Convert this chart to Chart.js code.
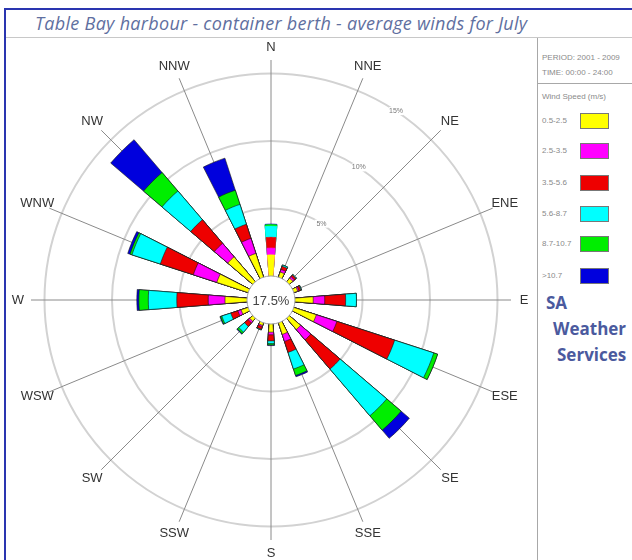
<!DOCTYPE html>
<html><head><meta charset="utf-8">
<script src="https://cdn.jsdelivr.net/npm/chart.js@4.4.0/dist/chart.umd.min.js"></script>
<style>
body{margin:0;width:632px;height:560px;overflow:hidden;background:#fff;position:relative;font-family:"Liberation Sans",Arial,sans-serif}
#frame{position:absolute;left:4px;top:8px;width:700px;height:600px;border-left:2px solid #2a35b0;border-top:2px solid #2a35b0}
#title{position:absolute;left:35px;top:11px;font:italic 18px "Open Sans";letter-spacing:0.3px;color:#5f6fa0;white-space:nowrap}
#hline{position:absolute;left:6px;top:37px;width:626px;height:1px;background:#c8c8c8}
#vline{position:absolute;left:537px;top:38px;width:1px;height:522px;background:#a8a8a8}
#pline{position:absolute;left:538px;top:83px;width:94px;height:1px;background:#a8a8a8}
#wrap{position:absolute;left:6px;top:40px;width:530px;height:520px}
.small{position:absolute;left:542px;font-size:8px;color:#8a8a8a;white-space:nowrap;line-height:10px}
.row{position:absolute;left:542px;width:80px;height:15px}
.row span{position:absolute;left:0;top:3px;font-size:8px;color:#8a8a8a;line-height:10px}
.row i{position:absolute;left:38px;top:0;width:27px;height:14px;border:1px solid #777}
.sa{position:absolute;font:bold 17px "Open Sans";color:#4b5a9e;white-space:nowrap;line-height:20px}
</style>
</head>
<body>
<div id="frame"></div>
<div id="title">Table Bay harbour - container berth - average winds for July</div>
<div id="hline"></div><div id="vline"></div><div id="pline"></div>
<div class="small" style="top:53px">PERIOD: 2001 - 2009</div>
<div class="small" style="top:68px">TIME: 00:00 - 24:00</div>
<div class="small" style="top:92px">Wind Speed (m/s)</div>
<div id="legend"></div>
<div class="sa" style="left:546px;top:293px">SA</div>
<div class="sa" style="left:553px;top:319px">Weather</div>
<div class="sa" style="left:557px;top:345px">Services</div>
<div id="wrap"><canvas id="rose" width="530" height="520"></canvas></div>
<script>
const directions = ['N','NNE','NE','ENE','E','ESE','SE','SSE','S','SSW','SW','WSW','W','WNW','NW','NNW'];
const speedBands = ['0.5-2.5','2.5-3.5','3.5-5.6','5.6-8.7','8.7-10.7','>10.7'];
const bandColors = ['#ffff00','#ff00ff','#ee0000','#00ffff','#00ee00','#0000dd'];
// % of time per direction, one array per wind speed band
const band1 = [1.56,0.40,0.35,0.30,1.35,1.75,1.10,0.90,0.60,0.20,0.30,0.55,1.63,2.44,2.43,1.85];
const band2 = [0.50,0.20,0.15,0.10,0.85,1.60,1.00,0.55,0.20,0.10,0.15,0.25,1.24,1.83,1.31,1.17];
const band3 = [0.80,0.25,0.15,0.15,1.55,4.50,2.85,0.85,0.45,0.20,0.35,0.55,2.33,2.57,2.30,1.10];
const band4 = [0.82,0.10,0.05,0.05,0.80,3.05,4.55,1.30,0.20,0.05,0.55,0.70,2.11,2.21,2.80,1.55];
const band5 = [0.12,0.00,0.00,0.00,0.00,0.30,1.40,0.50,0.10,0.00,0.15,0.10,0.70,0.15,1.80,1.10];
const band6 = [0.04,0.00,0.00,0.00,0.00,0.00,0.80,0.10,0.05,0.00,0.05,0.05,0.15,0.18,3.20,2.50];
const calm = 17.5;
const ringTicks = [5, 10, 15];

const bands = [band1, band2, band3, band4, band5, band6];

// legend
let lg = '';
speedBands.forEach((s, i) => {
  const top = [113, 143, 175, 206, 236, 268][i];
  lg += '<div class="row" style="top:' + top + 'px"><span>' + s + '</span><i style="background:' + bandColors[i] + '"></i></div>';
});
document.getElementById('legend').innerHTML = lg;

// each bar is a narrow wedge; gaps between them are empty slots.
// north is split in two halves so it sits centred on the N spoke
const barAngle = 9;
const step = 360 / directions.length;
const slotAngle = [barAngle / 2];
for (let k = 1; k < directions.length; k++) slotAngle.push(step - barAngle, barAngle);
slotAngle.push(step - barAngle, barAngle / 2);
const isGap = i => i % 2 === 1;
const isNorth = i => i === 0 || i === slotAngle.length - 1;

function spread(vals) {
  const out = [vals[0]];
  for (let k = 1; k < vals.length; k++) out.push(0, vals[k]);
  out.push(0, vals[0]);
  return out;
}

// cumulative totals so the bands stack outward
const cumul = [];
bands.forEach((b, j) => {
  cumul.push(b.map((v, k) => v + (j ? cumul[j - 1][k] : 0)));
});

const datasets = cumul.map((c, j) => ({
  data: spread(c),
  angle: slotAngle,
  backgroundColor: ctx => isGap(ctx.dataIndex) ? 'rgba(0,0,0,0)' : bandColors[j],
  borderColor: ctx => isGap(ctx.dataIndex) ? 'rgba(0,0,0,0)' : (isNorth(ctx.dataIndex) ? bandColors[j] : 'rgba(20,20,20,0.75)'),
  borderWidth: 0.8
}));

const roseDecor = {
  id: 'roseDecor',
  afterDatasetsDraw(chart) {
    const s = chart.scales.r, c = chart.ctx;
    c.save();
    // calm circle
    const r0 = s.getDistanceFromCenterForValue(0);
    c.beginPath();
    c.arc(s.xCenter, s.yCenter, r0, 0, Math.PI * 2);
    c.fillStyle = '#fff'; c.fill();
    c.strokeStyle = '#a0a0a0'; c.lineWidth = 1; c.stroke();
    c.fillStyle = '#444';
    c.font = '13px "Liberation Sans"';
    c.textAlign = 'center'; c.textBaseline = 'middle';
    c.fillText(calm + '%', s.xCenter, s.yCenter + 1);
    // ring labels
    c.font = '7px "Liberation Sans"';
    ringTicks.forEach(v => {
      const p = s.getPointPosition(0, s.getDistanceFromCenterForValue(v), Math.PI * 33.5 / 180);
      c.fillStyle = '#fff';
      c.fillRect(p.x - 7, p.y - 4, 14, 8);
      c.fillStyle = '#777';
      c.fillText(v + '%', p.x, p.y);
    });
    // direction labels
    c.font = '13px "Liberation Sans"';
    c.fillStyle = '#333';
    directions.forEach((d, i) => {
      const p = s.getPointPosition(i, s.drawingArea + 13);
      c.fillText(d, p.x, p.y);
    });
    c.restore();
  }
};

new Chart(document.getElementById('rose'), {
  type: 'polarArea',
  data: { labels: directions, datasets: datasets },
  options: {
    responsive: false,
    animation: false,
    events: [],
    layout: { padding: { left: 25, right: 25, top: 20, bottom: 20 } },
    plugins: { legend: { display: false }, tooltip: { enabled: false } },
    scales: {
      r: {
        min: -1.78,
        max: 16,
        bounds: 'data',
        startAngle: 0,
        afterBuildTicks: sc => { sc.ticks = [sc.min].concat(ringTicks).map(v => ({ value: v })); },
        ticks: { display: false },
        grid: { circular: true, lineWidth: 2, color: ctx => ctx.index === 0 ? 'rgba(0,0,0,0)' : '#d2d2d2' },
        angleLines: { display: true, color: '#8a8a8a', lineWidth: 1 },
        pointLabels: { display: false }
      }
    }
  },
  plugins: [roseDecor]
});
</script>
</body></html>
